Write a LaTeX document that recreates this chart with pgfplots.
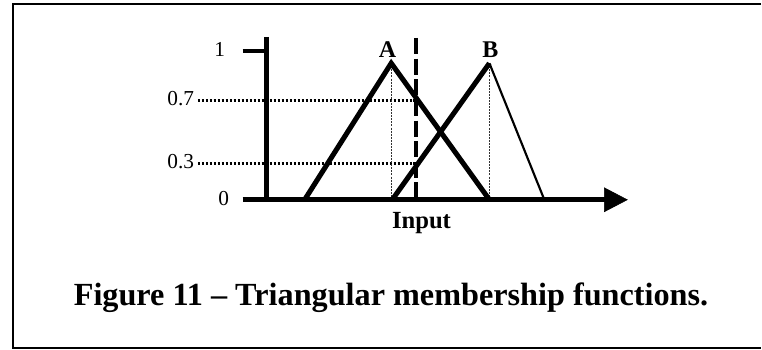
\documentclass[border=0pt]{standalone}
\usepackage{pgfplots}
\pgfplotsset{compat=1.18}
\usepackage{fontspec}
\setmainfont{Liberation Serif}
\begin{document}
\begin{tikzpicture}
\begin{axis}[
  scale only axis, width=571.5pt, height=262.5pt,
  xmin=0, xmax=762, ymin=0, ymax=350, y dir=reverse,
  hide axis, clip=false]
\path (axis cs:0,0) rectangle (axis cs:762,350);
% frame
\addplot[black, line width=1.4pt] coordinates {(762,4) (13,4) (13,348) (762,348)};
% dotted horizontal guide lines
\addplot[black, line width=2.2pt, dash pattern=on 1.8pt off 1.2pt] coordinates {(198,100.7) (416,100.7)};
\addplot[black, line width=2.2pt, dash pattern=on 1.8pt off 1.2pt] coordinates {(198,163.3) (416,163.3)};
% thin dotted verticals at peaks
\addplot[black!80, line width=0.7pt, dash pattern=on 1.5pt off 0.8pt] coordinates {(391.7,63.3) (391.7,200)};
\addplot[black!80, line width=0.7pt, dash pattern=on 1.5pt off 0.8pt] coordinates {(490,63.3) (490,200)};
% axes
\addplot[black, line width=3.6pt] coordinates {(266.5,37) (266.5,202)};
\addplot[black, line width=3.6pt] coordinates {(243,51) (268,51)};
\addplot[black, line width=3.8pt] coordinates {(243,200) (608,200)};
\addplot[black, fill=black] coordinates {(605,188) (628,200) (605,212) (605,188)} -- cycle;
% triangle A
\addplot[black, line width=3.8pt, line join=miter] coordinates {(305,200) (391.7,63.3) (490,200)};
% triangle B
\addplot[black, line width=3.8pt] coordinates {(392.7,200) (490,63.3)};
\addplot[black, line width=1.6pt] coordinates {(490,63.3) (545,200)};
% dashed input line
\addplot[black, line width=2.8pt, dash pattern=on 12pt off 3.5pt] coordinates {(416.7,38) (416.7,200)};
% labels
\node[font=\fontsize{16}{16}\selectfont, anchor=east] at (axis cs:230,50) {1};
\node[font=\fontsize{16}{16}\selectfont, anchor=east] at (axis cs:199,99) {0.7};
\node[font=\fontsize{16}{16}\selectfont, anchor=east] at (axis cs:199,162) {0.3};
\node[font=\fontsize{16}{16}\selectfont, anchor=east] at (axis cs:234,199) {0};
\node[font=\fontsize{18}{18}\selectfont\bfseries] at (axis cs:388,50) {A};
\node[font=\fontsize{18}{18}\selectfont\bfseries] at (axis cs:491,50) {B};
\node[font=\fontsize{18.5}{18.5}\selectfont\bfseries] at (axis cs:422,223) {Input};
\node[font=\fontsize{24.2}{24.2}\selectfont\bfseries, anchor=base] at (axis cs:391.5,306) {Figure 11 -- Triangular membership functions.};
\end{axis}
\end{tikzpicture}
\end{document}
